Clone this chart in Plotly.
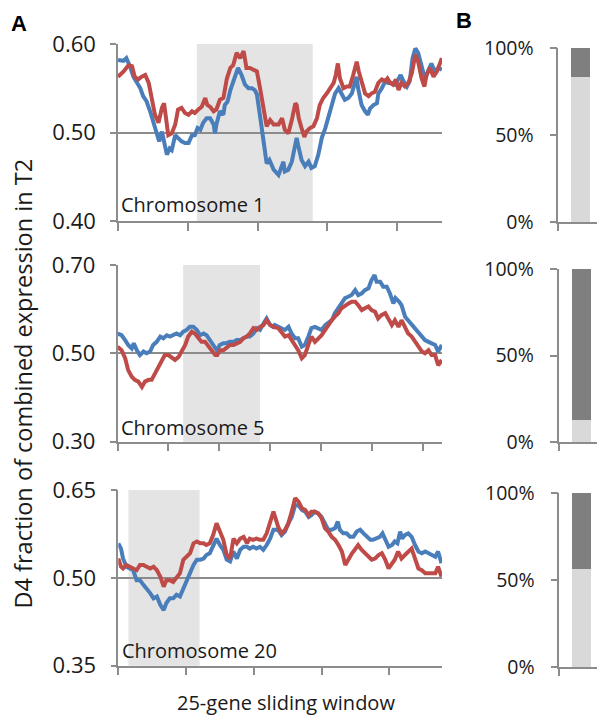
import plotly.graph_objects as go

W, H = 605, 718

# ---------------- data (window index, fraction) ----------------
chr1_blue_x = [0, 8, 12, 17, 22, 27, 32, 36, 41, 46, 51, 55, 59, 63, 66, 70, 74, 77, 82, 86, 91, 96, 101, 106, 110, 114, 118, 122, 127, 132, 137, 139, 141, 146, 151, 153, 157, 161, 165, 170, 172, 177, 182, 187, 192, 196, 199, 204, 208, 213, 217, 223, 230, 235, 237, 239, 244, 249, 254, 256, 258, 263, 268, 273, 277, 282, 287, 292, 297, 301, 306, 311, 316, 320, 325, 330, 335, 340, 342, 344, 349, 354, 358, 361, 366, 371, 373, 378, 383, 387, 392, 397, 402, 405, 409, 414, 418, 422, 426, 430, 435, 440, 445, 449, 454, 459, 464]
chr1_blue_y = [.582, .581, .584, .575, .563, .556, .550, .541, .535, .524, .511, .501, .490, .501, .490, .475, .482, .480, .497, .494, .490, .488, .488, .497, .497, .505, .503, .511, .516, .516, .509, .499, .509, .524, .520, .531, .535, .548, .558, .569, .573, .565, .554, .550, .550, .548, .543, .516, .490, .465, .469, .458, .452, .462, .467, .456, .458, .467, .486, .494, .486, .469, .462, .467, .460, .462, .475, .494, .505, .516, .531, .544, .550, .544, .537, .539, .544, .558, .563, .550, .531, .524, .520, .527, .531, .533, .544, .550, .558, .556, .556, .554, .560, .565, .558, .552, .558, .584, .595, .590, .575, .560, .571, .578, .569, .573, .571]
chr1_red_x = [0, 8, 15, 20, 24, 29, 34, 39, 44, 48, 53, 58, 63, 66, 69, 72, 77, 82, 86, 91, 96, 101, 106, 110, 115, 120, 125, 128, 132, 137, 141, 146, 151, 156, 161, 165, 170, 175, 180, 184, 189, 194, 199, 204, 208, 213, 218, 223, 230, 235, 239, 244, 249, 254, 256, 259, 263, 267, 270, 275, 280, 285, 289, 294, 299, 304, 309, 312, 315, 318, 323, 328, 332, 337, 342, 345, 349, 354, 359, 363, 368, 373, 378, 383, 386, 390, 394, 398, 402, 406, 411, 416, 421, 426, 430, 435, 439, 442, 447, 452, 457, 461, 464]
chr1_red_y = [.563, .569, .576, .575, .563, .560, .563, .565, .556, .537, .520, .511, .528, .533, .516, .497, .499, .509, .526, .528, .522, .520, .524, .522, .526, .529, .539, .531, .529, .524, .526, .537, .539, .561, .573, .576, .590, .584, .592, .573, .573, .571, .569, .548, .528, .507, .514, .509, .509, .516, .503, .499, .514, .533, .531, .516, .505, .495, .501, .505, .507, .516, .531, .539, .544, .550, .556, .565, .578, .561, .550, .552, .552, .565, .580, .569, .558, .544, .541, .544, .546, .556, .560, .558, .561, .556, .554, .560, .548, .556, .552, .556, .567, .588, .580, .561, .552, .565, .573, .563, .569, .578, .584]

chr5_blue_x = [0, 8, 15, 21, 28, 32, 38, 44, 51, 57, 64, 70, 77, 84, 90, 97, 103, 110, 116, 123, 129, 136, 142, 149, 156, 162, 169, 175, 182, 188, 195, 201, 208, 214, 221, 228, 234, 241, 247, 254, 260, 267, 273, 280, 287, 293, 300, 306, 309, 316, 322, 329, 336, 342, 349, 355, 362, 368, 375, 381, 388, 395, 401, 408, 414, 421, 427, 434, 440, 447, 453, 460, 467, 473, 480, 486, 493, 499, 505, 509, 516, 522, 529, 535, 542, 546, 553, 558, 565, 571, 578, 585, 591, 598, 604, 611, 617, 624, 630, 637]
chr5_blue_y = [.545, .541, .530, .519, .511, .523, .507, .496, .504, .500, .504, .519, .526, .538, .534, .541, .538, .541, .545, .541, .549, .553, .560, .560, .553, .541, .545, .541, .530, .519, .507, .519, .523, .523, .526, .526, .530, .530, .534, .538, .538, .545, .557, .553, .568, .579, .564, .560, .564, .560, .557, .553, .560, .545, .534, .534, .515, .519, .538, .557, .560, .557, .553, .564, .568, .575, .591, .602, .613, .625, .628, .632, .643, .632, .636, .643, .647, .666, .677, .662, .662, .651, .651, .636, .613, .625, .617, .609, .583, .575, .564, .557, .549, .538, .530, .526, .523, .519, .504, .519]
chr5_red_x = [0, 8, 15, 21, 28, 34, 41, 48, 54, 61, 67, 74, 80, 87, 93, 100, 106, 113, 120, 126, 133, 139, 146, 152, 159, 165, 172, 179, 185, 192, 196, 201, 208, 215, 221, 228, 234, 241, 247, 254, 260, 267, 273, 280, 287, 293, 300, 306, 316, 323, 329, 336, 342, 349, 355, 362, 368, 375, 381, 388, 395, 401, 408, 414, 421, 427, 434, 440, 447, 454, 460, 467, 473, 480, 486, 493, 499, 506, 512, 519, 526, 532, 539, 545, 552, 558, 565, 571, 578, 585, 591, 598, 604, 611, 617, 624, 630, 637]
chr5_red_y = [.515, .507, .489, .462, .447, .440, .436, .424, .436, .440, .440, .455, .470, .481, .496, .496, .492, .485, .492, .504, .519, .538, .549, .545, .534, .526, .526, .515, .504, .496, .496, .507, .507, .515, .519, .519, .523, .526, .534, .538, .545, .557, .553, .560, .564, .575, .564, .560, .557, .545, .538, .541, .530, .515, .507, .489, .496, .519, .538, .526, .534, .541, .553, .564, .575, .583, .591, .602, .609, .613, .617, .617, .609, .598, .602, .606, .598, .594, .579, .587, .591, .579, .564, .575, .560, .575, .560, .545, .538, .526, .515, .504, .500, .507, .496, .496, .473, .485]

chr20_blue_x = [0, 4, 7, 12, 17, 22, 27, 32, 37, 42, 47, 52, 57, 62, 67, 71, 76, 81, 86, 91, 96, 101, 106, 111, 116, 121, 126, 130, 135, 140, 145, 150, 155, 160, 165, 170, 175, 180, 185, 190, 194, 199, 204, 209, 214, 219, 224, 229, 236, 241, 246, 251, 256, 261, 266, 271, 276, 281, 285, 290, 295, 300, 305, 310, 315, 320, 324, 327, 332, 337, 342, 347, 352, 357, 362, 367, 372, 376, 381, 386, 390, 394, 399, 404, 408, 412, 416, 419, 423, 428, 433, 438, 443, 448, 453, 458, 463, 468, 472, 477]
chr20_blue_y = [.559, .550, .533, .519, .516, .513, .496, .496, .488, .482, .474, .465, .468, .454, .445, .457, .465, .465, .471, .468, .482, .496, .511, .522, .531, .531, .533, .539, .542, .553, .567, .556, .548, .531, .528, .545, .533, .548, .553, .553, .550, .553, .550, .553, .548, .556, .567, .582, .582, .573, .579, .593, .604, .624, .624, .616, .613, .604, .607, .613, .610, .604, .593, .582, .582, .585, .596, .582, .576, .576, .570, .570, .579, .582, .576, .570, .565, .565, .567, .570, .576, .567, .553, .556, .562, .559, .579, .567, .573, .576, .570, .556, .545, .542, .545, .542, .539, .536, .545, .525]
chr20_red_x = [0, 4, 7, 12, 17, 22, 27, 32, 37, 42, 47, 52, 57, 62, 67, 71, 76, 81, 86, 91, 96, 101, 106, 111, 116, 121, 126, 130, 135, 140, 145, 150, 155, 160, 165, 170, 175, 180, 185, 190, 194, 199, 204, 209, 214, 219, 224, 229, 236, 241, 246, 251, 256, 261, 266, 271, 276, 281, 285, 290, 295, 300, 305, 310, 315, 320, 325, 330, 335, 340, 345, 349, 354, 359, 364, 369, 374, 379, 384, 389, 394, 399, 404, 408, 413, 418, 423, 428, 433, 438, 443, 448, 453, 458, 463, 468, 472, 477]
chr20_red_y = [.533, .519, .516, .522, .519, .516, .513, .522, .522, .519, .516, .519, .513, .502, .485, .496, .496, .493, .502, .508, .531, .536, .542, .559, .562, .559, .559, .556, .559, .573, .593, .579, .565, .539, .533, .567, .559, .567, .570, .559, .567, .565, .567, .565, .565, .576, .593, .613, .587, .576, .582, .593, .613, .636, .630, .619, .616, .607, .613, .613, .610, .602, .585, .579, .570, .565, .556, .545, .522, .533, .542, .548, .556, .548, .542, .536, .531, .533, .539, .542, .531, .516, .525, .531, .545, .533, .539, .545, .550, .533, .516, .513, .508, .508, .508, .508, .519, .502]

chrom_labels = ["Chromosome 1", "Chromosome 5", "Chromosome 20"]
x_max = [464.2, 637.5, 477.8]
x_ticks = [[0, 100, 200, 300, 400], [0, 100, 200, 300, 400, 500, 600], [0, 100, 200, 300, 400]]
shade_ranges = [(113, 279), (129, 280), (15, 120)]
y_ranges = [(0.40, 0.60), (0.30, 0.70), (0.35, 0.65)]
y_ticks = [[0.40, 0.50, 0.60], [0.30, 0.50, 0.70], [0.35, 0.50, 0.65]]

# panel B: fraction in light (bottom) and dark (top) segments
b_light = [0.835, 0.126, 0.567]
b_dark = [1 - v for v in b_light]

x_title = "25-gene sliding window"
y_title = "D4 fraction of combined expression in T2"

BLUE = "#4a7ebb"
RED = "#be4b48"
GRID = "#8c8c8c"
SHADE = "#e4e4e4"
TXT = "#1a1a1a"
FONT = "Open Sans"

# page offset (body margin of the html page)
OX, OY = 8, 8

# ---------------- layout geometry (target pixels in the window) ----------------
a_x = [(118, 442), (117.5, 442), (118.3, 442)]
a_y = [(44, 221), (265, 441.7), (490, 665.7)]
b_x = [(558.3, 603.3), (558.5, 604), (559.3, 605)]
b_y = [(48, 222), (269, 442), (492.7, 667.3)]

def px(x):
    return (x - OX) / W

def py(y):
    return 1 - (y - OY) / H

def dx(p):
    return (px(p[0]), min(1.0, px(p[1])))

def dy(p):
    return (py(p[1]), py(p[0]))

fig = go.Figure()
series = [
    (chr1_blue_x, chr1_blue_y, chr1_red_x, chr1_red_y),
    (chr5_blue_x, chr5_blue_y, chr5_red_x, chr5_red_y),
    (chr20_blue_x, chr20_blue_y, chr20_red_x, chr20_red_y),
]

layout = dict(
    width=W, height=H, autosize=False,
    margin=dict(l=0, r=0, t=0, b=0, pad=0, autoexpand=False),
    paper_bgcolor="white", plot_bgcolor="rgba(0,0,0,0)",
    showlegend=False,
    font=dict(family=FONT, color=TXT, size=20),
)
shapes = []
annotations = []

for i in range(3):
    ax_n = 2 * i + 1
    bx_n = 2 * i + 2
    xa = "x" if ax_n == 1 else f"x{ax_n}"
    ya = "y" if ax_n == 1 else f"y{ax_n}"
    xb = f"x{bx_n}"
    yb = f"y{bx_n}"
    bxs, bys, rxs, rys = series[i]
    fig.add_trace(go.Scatter(x=bxs, y=bys, mode="lines", xaxis=xa, yaxis=ya,
                             line=dict(color=BLUE, width=4), hoverinfo="skip"))
    fig.add_trace(go.Scatter(x=rxs, y=rys, mode="lines", xaxis=xa, yaxis=ya,
                             line=dict(color=RED, width=4), hoverinfo="skip"))
    fig.add_trace(go.Bar(x=["chr"], y=[b_light[i]], xaxis=xb, yaxis=yb,
                         marker=dict(color="#d9d9d9", line=dict(width=0)), width=0.41))
    fig.add_trace(go.Bar(x=["chr"], y=[b_dark[i]], xaxis=xb, yaxis=yb,
                         marker=dict(color="#7f7f7f", line=dict(width=0)), width=0.41))

    xk = "xaxis" if ax_n == 1 else f"xaxis{ax_n}"
    yk = "yaxis" if ax_n == 1 else f"yaxis{ax_n}"
    layout[xk] = dict(domain=dx(a_x[i]), anchor=ya, range=[0, x_max[i]], automargin=False,
                      showgrid=False, zeroline=False, showline=True, linecolor=GRID, linewidth=1.5,
                      ticks="outside", ticklen=8, tickwidth=1.5, tickcolor=GRID,
                      tickvals=x_ticks[i], showticklabels=False)
    layout[yk] = dict(domain=dy(a_y[i]), anchor=xa, range=list(y_ranges[i]), automargin=False,
                      tickvals=y_ticks[i], tickformat=".2f",
                      showgrid=True, gridcolor=GRID, gridwidth=1.5, zeroline=False,
                      showline=True, linecolor=GRID, linewidth=1.5,
                      ticks="outside", ticklen=6, tickwidth=1.5, tickcolor=GRID,
                      tickfont=dict(size=22, family=FONT, color=TXT), ticklabelstandoff=10)
    layout[f"xaxis{bx_n}"] = dict(domain=dx(b_x[i]), anchor=yb, range=[-0.5, 0.5], automargin=False,
                                  type="category", showgrid=False, zeroline=False,
                                  showline=True, linecolor=GRID, linewidth=1.5,
                                  ticks="outside", tickson="boundaries", ticklen=7,
                                  tickwidth=1.5, tickcolor=GRID, showticklabels=False)
    layout[f"yaxis{bx_n}"] = dict(domain=dy(b_y[i]), anchor=xb, range=[0, 1], automargin=False,
                                  tickvals=[0, 0.5, 1], tickformat=".0%",
                                  showgrid=False, zeroline=False,
                                  showline=True, linecolor=GRID, linewidth=1.5,
                                  ticks="outside", ticklen=7, tickwidth=1.5, tickcolor=GRID,
                                  tickfont=dict(size=19.5, family=FONT, color=TXT), ticklabelstandoff=12)

    shapes.append(dict(type="rect", xref=xa, yref=f"{ya} domain",
                       x0=shade_ranges[i][0], x1=shade_ranges[i][1], y0=0, y1=1,
                       fillcolor=SHADE, line=dict(width=0), layer="below"))

label_y = [0.096, 0.078, 0.084]
for i in range(3):
    ax_n = 2 * i + 1
    xa = "x" if ax_n == 1 else f"x{ax_n}"
    ya = "y" if ax_n == 1 else f"y{ax_n}"
    annotations.append(dict(text=chrom_labels[i], xref=f"{xa} domain", yref=f"{ya} domain",
                            x=0.004, y=label_y[i], xanchor="left", yanchor="middle",
                            showarrow=False, font=dict(size=20, family=FONT, color=TXT)))

annotations.append(dict(text=x_title, xref="paper", yref="paper", x=px(285.7), y=py(702.5),
                        xanchor="center", yanchor="middle", showarrow=False,
                        font=dict(size=20, family=FONT, color=TXT)))
annotations.append(dict(text=y_title, xref="paper", yref="paper", x=px(22), y=py(383.5),
                        xanchor="center", yanchor="middle", textangle=-90, showarrow=False,
                        font=dict(size=23.5, family=FONT, color=TXT)))
annotations.append(dict(text="<b>A</b>", xref="paper", yref="paper", x=px(19), y=py(24),
                        xanchor="center", yanchor="middle", showarrow=False,
                        font=dict(size=22, family="Liberation Sans", color="black")))
annotations.append(dict(text="<b>B</b>", xref="paper", yref="paper", x=px(464), y=py(21),
                        xanchor="center", yanchor="middle", showarrow=False,
                        font=dict(size=22, family="Liberation Sans", color="black")))

layout["shapes"] = shapes
layout["annotations"] = annotations
layout["barmode"] = "stack"
layout["bargap"] = 0
fig.update_layout(**layout)
fig.write_html("out.html")
